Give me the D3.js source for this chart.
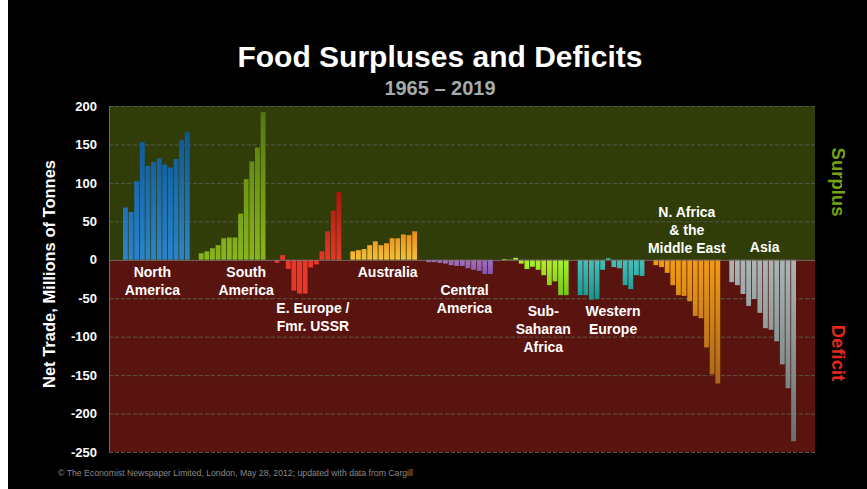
<!DOCTYPE html>
<html>
<head>
<meta charset="utf-8">
<script src="https://cdn.jsdelivr.net/npm/d3@7"></script>
<style>
  body { margin: 0; background: #000; }
  svg { display: block; }
</style>
</head>
<body>
<div id="chart"></div>
<script>
// Data (millions of tonnes)
const regions = ["North America", "South America", "E. Europe / Fmr. USSR", "Australia",
  "Central America", "Sub-Saharan Africa", "Western Europe", "N. Africa & the Middle East", "Asia"];
const years = ["1965", "1970", "1975", "1980", "1985", "1990", "1995", "2000", "2005", "2010", "2015", "2019"];

const northAmerica = [68, 62, 102, 153, 122, 127, 132, 124, 120, 131, 156, 166];
const southAmerica = [8.5, 11, 15, 19, 28, 29, 29, 60, 105, 128, 146, 192];
const eEurope = [-4, 6, -12, -40, -44, -44, -10, -6, 11, 37, 64, 88];
const australia = [11, 12.5, 14, 19, 24, 19, 21.5, 28, 28, 33, 32, 37];
const centralAmerica = [-3, -3, -4, -5, -7, -8, -8, -11, -13, -14.5, -18.5, -18.5];
const subSaharan = [1, 0.5, 2.5, -5, -12, -9, -13, -20, -33, -28, -46, -46];
const westernEurope = [-46, -46, -52, -51, -13, 2, -9.5, -11, -33, -38, -20, -21];
const nAfricaMidEast = [-7, -9.5, -17, -33, -46, -47, -54, -73, -76, -114, -149, -161];
const asia = [-29, -33, -44.5, -60, -51, -69, -89, -91, -106, -136, -167, -236];

const yTicks = [200, 150, 100, 50, 0, -50, -100, -150, -200, -250];

const series = [northAmerica, southAmerica, eEurope, australia, centralAmerica,
  subSaharan, westernEurope, nAfricaMidEast, asia];

// near-zero colour, far-end colour
const colors = [
  ["#2b84cc", "#0b5898"],
  ["#88b61c", "#567510"],
  ["#e8382a", "#a8160e"],
  ["#f6c038", "#e88a18"],
  ["#a070c2", "#8654aa"],
  ["#aaf22a", "#76c416"],
  ["#44c2ba", "#0e9890"],
  ["#f09c12", "#a8661a"],
  ["#aab6b6", "#667070"]
];

// label lines and baselines (px)
const labels = [
  { lines: ["North", "America"], y: 277, dx: -4 },
  { lines: ["South", "America"], y: 277, dx: 14 },
  { lines: ["E. Europe /", "Fmr. USSR"], y: 313, dx: 5 },
  { lines: ["Australia"], y: 277, dx: 4 },
  { lines: ["Central", "America"], y: 295, dx: 5 },
  { lines: ["Sub-", "Saharan", "Africa"], y: 316, dx: 8 },
  { lines: ["Western", "Europe"], y: 316, dx: 2 },
  { lines: ["N. Africa", "& the", "Middle East"], y: 217, dx: 0 },
  { lines: ["Asia"], y: 252, dx: 2 }
];

const W = 867, H = 489;
const plotL = 109, plotR = 815;

const svg = d3.select("#chart").append("svg")
  .attr("width", W).attr("height", H)
  .style("font-family", "Liberation Sans, Arial, sans-serif");

svg.append("rect").attr("width", W).attr("height", H).attr("fill", "#000");
svg.append("rect").attr("width", 8).attr("height", H).attr("fill", "#fff");

const y = d3.scaleLinear().domain([-250, 200]).range([452, 106]);

const x0 = d3.scaleBand()
  .domain(regions)
  .range([123, 796])
  .paddingInner(0.12)
  .paddingOuter(0);

const x1 = d3.scaleBand()
  .domain(years)
  .range([0, x0.bandwidth()])
  .paddingInner(0.14);

// backgrounds
svg.append("rect")
  .attr("x", plotL).attr("y", y(200))
  .attr("width", plotR - plotL).attr("height", y(0) - y(200))
  .attr("fill", "#303d08");
svg.append("rect")
  .attr("x", plotL).attr("y", y(0))
  .attr("width", plotR - plotL).attr("height", y(-250) - y(0))
  .attr("fill", "#5a1410");

// gridlines
svg.append("g").selectAll("line")
  .data(yTicks.filter(d => d !== 0))
  .enter().append("line")
  .attr("x1", plotL).attr("x2", plotR)
  .attr("y1", d => y(d) + 0.5).attr("y2", d => y(d) + 0.5)
  .attr("stroke", "#5a5648")
  .attr("stroke-dasharray", "4,2");

// tick labels
svg.append("g").selectAll("text")
  .data(yTicks)
  .enter().append("text")
  .attr("x", 97).attr("y", d => y(d))
  .attr("dy", "0.36em")
  .attr("text-anchor", "end")
  .attr("fill", "#fff")
  .attr("font-size", 13)
  .attr("font-weight", "bold")
  .text(d => d);

// gradients
const defs = svg.append("defs");
regions.forEach((r, i) => {
  const vals = series[i];
  const ext = vals.reduce((a, b) => Math.abs(b) > Math.abs(a) ? b : a, 0);
  const g = defs.append("linearGradient")
    .attr("id", "grad" + i)
    .attr("gradientUnits", "userSpaceOnUse")
    .attr("x1", 0).attr("x2", 0)
    .attr("y1", y(0)).attr("y2", y(ext));
  g.append("stop").attr("offset", "0%").attr("stop-color", colors[i][0]);
  g.append("stop").attr("offset", "100%").attr("stop-color", colors[i][1]);
});

// bars
regions.forEach((r, i) => {
  svg.append("g")
    .attr("transform", `translate(${x0(r)},0)`)
    .selectAll("rect")
    .data(series[i].map((v, j) => ({ year: years[j], value: v })))
    .enter().append("rect")
    .attr("x", d => x1(d.year))
    .attr("y", d => Math.min(y(d.value), y(0)))
    .attr("width", x1.bandwidth())
    .attr("height", d => Math.abs(y(d.value) - y(0)))
    .attr("fill", `url(#grad${i})`);
});

// zero line and left edge
svg.append("line")
  .attr("x1", plotL).attr("x2", plotR)
  .attr("y1", y(0) + 0.5).attr("y2", y(0) + 0.5)
  .attr("stroke", "#77776a").attr("stroke-width", 1);
svg.append("line")
  .attr("x1", plotL + 0.5).attr("x2", plotL + 0.5)
  .attr("y1", y(200)).attr("y2", y(-250))
  .attr("stroke", "#6a6a60");

// region labels
regions.forEach((r, i) => {
  const lab = labels[i];
  const cx = x0(r) + x0.bandwidth() / 2 + lab.dx;
  const t = svg.append("text")
    .attr("x", cx)
    .attr("y", lab.y)
    .attr("text-anchor", "middle")
    .attr("fill", "#fff")
    .attr("font-size", 14)
    .attr("font-weight", "bold");
  lab.lines.forEach((line, k) => {
    t.append("tspan")
      .attr("x", cx)
      .attr("dy", k === 0 ? 0 : 18)
      .text(line);
  });
});

// titles
svg.append("text")
  .attr("x", 440).attr("y", 67)
  .attr("text-anchor", "middle")
  .attr("fill", "#fff")
  .attr("font-size", 30)
  .attr("font-weight", "bold")
  .text("Food Surpluses and Deficits");

svg.append("text")
  .attr("x", 440).attr("y", 95)
  .attr("text-anchor", "middle")
  .attr("fill", "#a4acac")
  .attr("font-size", 20)
  .attr("font-weight", "bold")
  .text("1965 \u2013 2019");

// y axis title
svg.append("text")
  .attr("transform", `translate(55,${274}) rotate(-90)`)
  .attr("text-anchor", "middle")
  .attr("fill", "#fff")
  .attr("font-size", 16.5)
  .attr("font-weight", "bold")
  .text("Net Trade, Millions of Tonnes");

// side labels
svg.append("text")
  .attr("transform", `translate(832,182) rotate(90)`)
  .attr("text-anchor", "middle")
  .attr("fill", "#76a416")
  .attr("font-size", 18.5)
  .attr("font-weight", "bold")
  .text("Surplus");

svg.append("text")
  .attr("transform", `translate(832,353) rotate(90)`)
  .attr("text-anchor", "middle")
  .attr("fill", "#e52a1c")
  .attr("font-size", 18.5)
  .attr("font-weight", "bold")
  .text("Deficit");

// source
svg.append("text")
  .attr("x", 58).attr("y", 476)
  .attr("fill", "#8a8a8a")
  .attr("font-size", 8.7)
  .text("\u00a9 The Economist Newspaper Limited, London, May 28, 2012; updated with data from Cargill");
</script>
</body>
</html>
